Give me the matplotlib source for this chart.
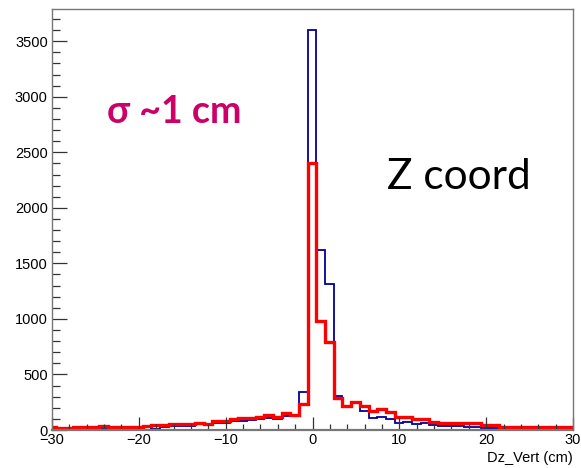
import numpy as np
import matplotlib
matplotlib.use("Agg")
import matplotlib.pyplot as plt
from matplotlib.ticker import MultipleLocator

# bin centres (width 1 cm)
centers = list(range(-30, 31))

blue_vals = [
    18, 20, 15, 18, 15, 18, 20, 18, 15, 18,      # -30 .. -21
    20, 30, 12, 24, 36, 40, 40, 50, 45, 60,      # -20 .. -11
    66, 80, 84, 90, 96, 108, 96, 126, 126, 345,  # -10 .. -1
    3600,                                        # 0
    1620, 1310, 310, 210, 250, 174, 111, 120, 96, 66,   # 1 .. 10
    75, 54, 66, 45, 36, 33, 36, 30, 24, 15,      # 11 .. 20
    15, 8, 10, 6, 12, 10, 8, 12, 8, 6,           # 21 .. 30
]

red_vals = [
    24, 20, 15, 24, 24, 24, 36, 24, 24, 24,      # -30 .. -21
    24, 39, 45, 45, 54, 54, 54, 66, 54, 84,      # -20 .. -11
    84, 96, 105, 105, 120, 135, 120, 150, 135, 235,  # -10 .. -1
    2400,                                        # 0
    980, 790, 290, 220, 255, 216, 174, 186, 159, 120,   # 1 .. 10
    120, 96, 96, 75, 60, 66, 66, 60, 60, 45,     # 11 .. 20
    45, 30, 30, 30, 30, 30, 30, 24, 24, 24,      # 21 .. 30
]

xlabel = "Dz_Vert (cm)"
sigma_text = "σ ~1 cm"
title_text = "Z coord"

edges = np.array(centers + [centers[-1] + 1], dtype=float) - 0.55

fig = plt.figure(figsize=(5.81, 4.68), dpi=100)
ax = fig.add_axes([52 / 581, 38 / 468, 521 / 581, 421 / 468])

ax.stairs(blue_vals, edges, color="#000099", lw=1.3, baseline=0)
ax.stairs(red_vals, edges, color="#FF0000", lw=2.4, baseline=0)

ax.set_xlim(-30, 30)
ax.set_ylim(0, 3790)

ax.xaxis.set_major_locator(MultipleLocator(10))
ax.xaxis.set_minor_locator(MultipleLocator(2))
ax.yaxis.set_major_locator(MultipleLocator(500))
ax.yaxis.set_minor_locator(MultipleLocator(100))

ax.tick_params(axis="both", which="both", direction="in", top=False, right=False,
               color="#333333", width=0.9)
ax.tick_params(axis="y", which="major", length=11, pad=3)
ax.tick_params(axis="y", which="minor", length=5.5)
ax.tick_params(axis="x", which="major", length=9.5, pad=2)
ax.tick_params(axis="x", which="minor", length=4.5)

for lab in ax.get_xticklabels() + ax.get_yticklabels():
    lab.set_fontfamily("Liberation Sans")
    lab.set_fontsize(10.5)

for s in ax.spines.values():
    s.set_color("#777777")
    s.set_linewidth(1.0)
ax.spines["bottom"].set_linewidth(1.6)

fig.text(573 / 581, 1 - 458 / 468, xlabel, ha="right", va="center",
         fontsize=10.5, family="Liberation Sans")

fig.text(107 / 581, 1 - 112 / 468, sigma_text, ha="left", va="center",
         fontsize=27, fontweight="bold", family=["Lato", "DejaVu Sans"], color="#CC0066")
fig.text(387 / 581, 1 - 177 / 468, title_text, ha="left", va="center",
         fontsize=30.5, family=["Lato", "DejaVu Sans"], color="black")

fig.savefig("out.png", dpi=100)
